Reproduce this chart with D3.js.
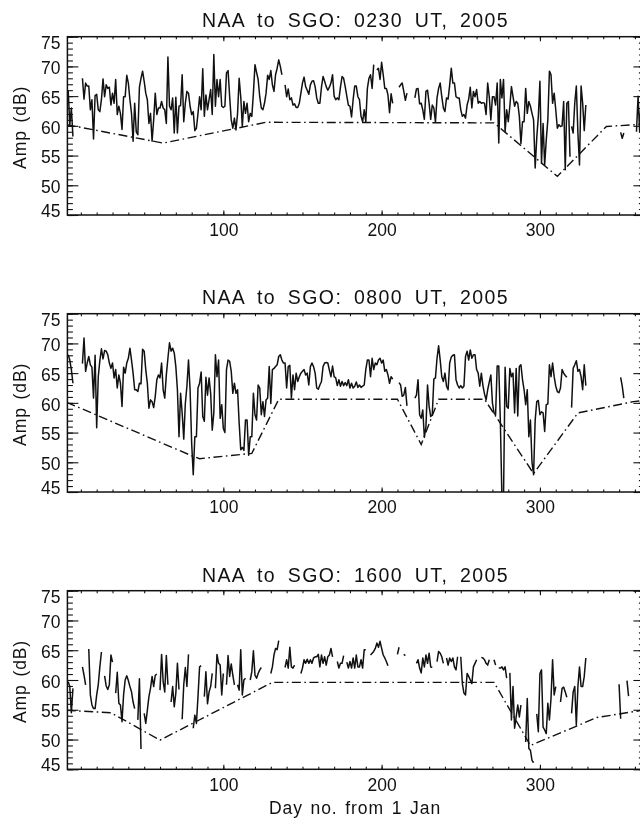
<!DOCTYPE html>
<html>
<head>
<meta charset="utf-8">
<style>
  body { margin: 0; background: #fff; }
  svg { display: block; filter: blur(0.35px); }
  text { font-family: "Liberation Sans", Arial, sans-serif; fill: #111; }
  .title { font-size: 19.5px; letter-spacing: 1.4px; word-spacing: 5px; }
  .tick-label { font-size: 17.5px; }
  .axis-label { font-size: 17.5px; letter-spacing: 0.9px; word-spacing: 2px; }
</style>
</head>
<body>
<div id="chart"></div>
<script src="https://d3js.org/d3.v7.min.js"></script>
<script>
// Amplitudes, one value per day. starts = first day of each unbroken run
const titles = ['NAA to SGO: 0230 UT, 2005', 'NAA to SGO: 0800 UT, 2005', 'NAA to SGO: 1600 UT, 2005'];
const yTicks = [45, 50, 55, 60, 65, 70, 75];
const xTicks = [100, 200, 300];

const starts0230 = [2, 11, 139, 197, 211, 221, 320, 351, 361];
const runs0230 = [
  [66, 60.2, 63, 58.2],
  [68, 64.5, 67.2, 66.7, 66.7, 62.7, 64.4, 57.8, 65.1, 65.3, 62.7, 62.4, 64.4, 67.9, 64.9, 66.9, 66.3, 66.5, 63.5, 65.5, 63.8, 67.8, 61.9, 63.3, 62.1, 59.4, 64.9, 64.9, 68.5, 67.2, 64.4, 62.1, 57.4, 63.8, 59, 58.5, 66.5, 68, 69.2, 67.5, 65.5, 64.4, 60.4, 62.1, 57.4, 61, 65.5, 61.9, 63, 63, 64.1, 63, 62.7, 60.4, 71.6, 63.3, 62.7, 64.7, 58.8, 64.8, 58.8, 63.3, 63.4, 68.6, 60.7, 63.8, 65.8, 65.5, 63.3, 61.9, 62.4, 59.2, 59.6, 62.1, 64.9, 62.7, 69.6, 61.6, 65.2, 62.7, 64.4, 66.1, 61.9, 72, 63.3, 67.8, 64.9, 67.8, 63.3, 63.1, 63.3, 68.9, 69.3, 64.9, 61, 59.6, 61.3, 59.3, 62.1, 68, 64.9, 59.9, 64.1, 62.1, 63.8, 60.7, 62.1, 61.6, 65.5, 70.3, 69, 67.8, 64.9, 63, 62.7, 63.8, 65.5, 68.5, 67.8, 69.3, 66.9, 65.8, 68.6, 69.7, 71.1, 70, 68.6],
  [66.9, 64.9, 66.2, 64.4, 64.7, 63.5, 63.7, 63.1, 63.1, 63.8, 65.5, 67.2, 68.2, 66.6, 66, 65.3, 66.9, 67.5, 67.6, 66.6, 64.7, 63.8, 63.8, 66.5, 68.3, 67.5, 66.6, 66, 66.5, 67.2, 68.6, 65, 64.4, 64.7, 64.4, 66.5, 68.3, 68, 66.6, 65, 63.5, 63.3, 61.5, 64.4, 66.7, 66.7, 64.9, 64.4, 61.6, 60.7, 62.7, 60.7, 66.3, 68, 68.6, 66.3, 70.3],
  [69.4, 69.7, 67.8, 70.7, 68.6, 66.3, 66.3, 65.2, 62.2, 65.4, 63.8],
  [66.5, 66.9, 67.2, 65.8, 64.3, 65.5],
  [64.7, 66.2, 66.3, 63.7, 63.8, 62.7, 61.1, 65.8, 66, 63.8, 61.1, 63.5, 63, 60.6, 64.7, 66.3, 67.2, 64.9, 63, 62.4, 64.7, 64.5, 66.9, 69.7, 67.2, 67.2, 64.9, 64.7, 64.7, 62.7, 61.6, 61.9, 61.3, 63.5, 64.5, 66.5, 63, 65.8, 64.9, 66.1, 63.8, 64.1, 63.8, 63.9, 63.8, 61.9, 67.2, 64.9, 61, 64.9, 64.9, 63.5, 67.2, 57.1, 67.8, 64.7, 67.8, 59, 62.7, 60.7, 63.3, 66.6, 64.9, 63.3, 64.1, 63.8, 61.6, 57, 60.7, 60.7, 66.3, 62.1, 64.1, 63.3, 62.1, 61, 52.9, 58, 61.6, 67.5, 53.7, 60.4, 53.4, 57.6, 61, 69.2, 68.6, 63.8, 65.5, 62.7, 59.6, 60.2, 59.9, 60, 64.1, 52.6, 63.8, 64.1, 54.8],
  [59.9, 58.8, 63.8, 66.7, 58.8, 53.4, 66.7, 63.8, 59.2, 63.5],
  [58.9, 57.9, 58.8],
  [59, 65, 59, 64.9]
];
const refDays0230 = [1, 62, 127, 271, 311, 342, 361, 366];
const refAmp0230 = [60.2, 57.1, 60.6, 60.5, 51.5, 59.9, 60.2, 60.4];

const starts0800 = [2, 11, 211, 221, 320, 351];
const runs0800 = [
  [68.1, 67.2, 65.6, 63.3],
  [66.6, 70.9, 65.3, 66.7, 67.8, 66.4, 66, 60.8, 68, 55.8, 64.4, 67.1, 69.1, 67.4, 68.8, 68.7, 68.1, 66.7, 65.8, 66.7, 64.2, 65.6, 62.5, 64.7, 63.3, 59.4, 66, 65, 66.7, 67.5, 69.2, 67.2, 65, 62.2, 62.2, 61.9, 63.3, 63.2, 69, 68.7, 65.6, 63.3, 59.1, 60.5, 60.2, 59.2, 61.1, 63.9, 64.7, 64.2, 66.7, 62.2, 60.8, 64.7, 67.5, 70.1, 68.7, 69.2, 68.4, 66.1, 62.2, 54.3, 61.6, 58.3, 53.9, 59.9, 62.8, 67.2, 62.2, 53.2, 47.9, 54.3, 54.3, 62.5, 63.3, 65.2, 57.7, 56.9, 64.3, 61.3, 64.2, 61.6, 55.4, 58.3, 68.1, 64.4, 67.2, 57.4, 59.7, 55.7, 55, 65.6, 67.2, 67, 65.3, 61.6, 63.3, 61.6, 62.2, 56.6, 52.1, 52.5, 52, 57.1, 57.1, 51.2, 54.3, 54.3, 61.6, 58, 57.1, 63, 62.5, 58, 60.2, 57.7, 60.5, 60.8, 66.1, 59.9, 65.6, 65.8, 66.1, 66.4, 67.8, 68.1, 67.2, 66.7, 66.7, 62.5, 66.1, 66.3, 60.8, 64.7, 62.2, 65, 63.6, 64.4, 65, 65.3, 65.6, 64.7, 65, 63, 66.1, 66.7, 66.1, 65, 62.5, 62.3, 63, 63.6, 66.1, 66.7, 66.8, 66.7, 65.5, 64.4, 66.2, 64.4, 64.2, 62.9, 63.9, 62.8, 63.6, 62.9, 63.4, 62.9, 63.9, 62.5, 63.3, 62.5, 62.8, 63.5, 62.6, 63, 62.6, 62.8, 63, 65.6, 67.2, 67.2, 64.4, 67.5, 65.6, 66.7, 66.4, 67.2, 67.5, 66.7, 67.2, 65.3, 65.6, 64.7, 63.3, 64.4, 64],
  [63.4, 63, 61.1, 61.3, 62.6, 59.5],
  [60.8, 61.3, 63.9, 58, 57.4, 58.8, 54.2, 56, 63, 59.4, 57.7, 58, 64, 64.2, 67.5, 69.6, 67.2, 64.4, 63.6, 65, 62.8, 62.2, 66.7, 67.7, 68, 68.1, 63.9, 63, 62.5, 62.9, 62.5, 62.8, 67.8, 68.7, 67.2, 68.9, 67.5, 68.1, 68.1, 65.6, 65, 62.8, 65, 62.9, 61.5, 60.5, 62.2, 63.5, 64.7, 60, 58.3, 58, 66.2, 66.2, 56.9, 44, 44, 66, 59.4, 59.1, 65.8, 64.4, 65, 58.3, 65.8, 57.8, 66.1, 66.4, 63.9, 62.2, 59.7, 62.2, 54.3, 57.1, 50, 47.9, 57.1, 60.2, 60.4, 58, 58.5, 58.3, 55.2, 59.7, 59.8, 66.4, 64.4, 66.7, 64.4, 62.8, 61.9, 61.7, 62.5, 65.6, 65, 64.6, 64.3],
  [59.2, 65.8, 66.4, 67.1, 65.3, 65.6, 64.4, 62.2, 66.4, 62.9],
  [64.3, 62.8, 60.8]
];
const refDays0800 = [1, 80, 85, 118, 135, 210, 225, 236, 265, 296, 324, 359, 366];
const refAmp0800 = [60.1, 51.1, 50.6, 51.5, 60.6, 60.6, 53, 60.6, 60.6, 48.1, 58.3, 60.2, 60.4];

const starts1600 = [2, 11, 15, 25, 32, 46, 50, 60, 67, 74, 81, 88, 95, 102, 109, 117, 130, 139, 149, 172, 178, 193, 210, 214, 222, 235, 241, 250, 263, 271, 274, 281, 291, 298, 313, 320, 350, 355];
const runs1600 = [
  [59.7, 58.9, 54.5, 58.6],
  [62.2, 60.8, 59.2],
  [65.2, 57.5, 55.8, 55.2, 55.2, 57.5, 59.2, 62.2, 64.7],
  [60.7, 59, 58.4, 59.2, 64.2, 63],
  [57.8, 61.3, 56.1, 55.8, 53, 57.5, 60, 60.7, 59.9, 58.9, 58, 56.3, 55.2],
  [53.3, 60.2, 48.4],
  [54.4, 52.7, 54.9, 57.2, 58.6, 60.6, 58.9, 60.8, 61],
  [58.3, 64.3, 59.7, 58, 64.1, 59.2],
  [56.3, 58.9, 55.5, 57.8, 62.8, 58.4],
  [53.4, 59.2, 62.1, 58.9, 64.3],
  [51.9, 54.1, 52.7, 57.2, 62.2, 62.4],
  [57.2, 61.4, 56, 58, 58.9, 61.1],
  [58.6, 64.3, 62.8, 62.5, 57.5, 61.1],
  [59.2, 64.1, 60.6, 62.7, 60.8, 59.2],
  [59.2, 58.3, 65.1, 57.5, 60, 60.3],
  [60, 61.4, 64.9, 60.8, 60.3, 61.1, 61.7, 62.1],
  [61.1, 62.2, 64.2, 65.3, 65.1, 66.6],
  [62.1, 63.4, 62, 65.5, 62.2, 62, 62.5],
  [61.1, 62, 63.4, 62.8, 63.5, 62.8, 63.4, 62.8, 63.7, 63.9, 63.9, 64.3, 62.2, 64.2, 62.8, 63.9, 62.5, 63.9, 64.2, 65.3, 63.9],
  [63.1, 62, 62.8, 62.8, 64.1],
  [63, 62, 63.1, 62, 63.7, 62, 64.2, 62.2, 62.2, 63.4, 62, 65.1, 65.1],
  [64.2, 64.5, 64.8, 65.3, 66.2, 65.5, 66.5, 65.3, 64.2, 63.7, 63.1, 62.4],
  [64.3, 65.5],
  [64.3, 64.1],
  [62.8, 63.4, 62, 61.2, 63.7, 62.2, 64.2, 62.8, 64.5, 62.2, 62.1],
  [63.1, 64.8, 64.5, 63.9, 62.8],
  [63.7, 62.5, 63.7, 63.1, 63.7, 62.2, 61.7, 63.9],
  [63.9, 59.4, 57.8, 57.5, 61.1, 60.6, 60, 59.4, 62.2, 62.8, 63.4],
  [63.8, 63.7, 63.4, 62.8, 62.5, 63.4],
  [63.4, 62.5],
  [62, 62, 62.2, 61.7, 62.2, 60.3],
  [61.2, 53.3, 58.9, 51.9, 53.8, 55.8, 53.8, 55.8],
  [49.6, 56.9, 48.5, 48.2, 46.5, 46.1],
  [54.3, 51.3, 61.1, 61.7, 52.1, 51.6, 51, 56.1, 53.3, 56.9, 63.4, 57.5, 58.9],
  [56.3, 58.6, 58.8, 58, 57.1],
  [54.4, 58, 58.9, 52.4, 58.9, 62.2, 58.9, 58.9, 60.6, 63.7],
  [59.3, 53.5],
  [59.9, 57.3]
];
const refDays1600 = [1, 29, 60, 131, 271, 294, 336, 362, 366];
const refAmp1600 = [54.9, 54.5, 49.9, 59.6, 59.6, 49, 53.7, 54.8, 55];

const width = 640;
const height = 821;
const panels = [
  { title: titles[0], top: 36.7, bottom: 215, baseline: 27.3, starts: starts0230, runs: runs0230, refDays: refDays0230, refAmp: refAmp0230 },
  { title: titles[1], top: 313.7, bottom: 492, baseline: 304, starts: starts0800, runs: runs0800, refDays: refDays0800, refAmp: refAmp0800 },
  { title: titles[2], top: 590.7, bottom: 769.3, baseline: 581.7, starts: starts1600, runs: runs1600, refDays: refDays1600, refAmp: refAmp1600 }
];

const svg = d3.select('#chart').append('svg')
  .attr('width', width)
  .attr('height', height);

const x = d3.scaleLinear().domain([1.5, 366]).range([67.4, 644.4]);
const minorX = d3.range(10, 361, 10);
const minorY = d3.range(45, 76);

// labels are squeezed in from the frame ends in the original
const labelNudge = (v) => (v === 75 ? 6.3 : v === 45 ? -4.5 : 1.6);

panels.forEach((p, i) => {
  const y = d3.scaleLinear().domain([45, 75]).range([p.bottom, p.top]);
  const g = svg.append('g');
  const clipId = 'clip' + i;

  g.append('clipPath').attr('id', clipId).append('rect')
    .attr('x', x.range()[0]).attr('y', p.top)
    .attr('width', x.range()[1] - x.range()[0]).attr('height', p.bottom - p.top);

  // ticks on all four sides, none labelled yet
  const addAxis = (axis, tx, ty) => {
    const a = g.append('g').attr('transform', `translate(${tx},${ty})`).call(axis);
    a.selectAll('.domain').remove();
    a.selectAll('line').attr('stroke', '#111').attr('stroke-width', 1.1);
    a.selectAll('text').remove();
  };
  addAxis(d3.axisBottom(x).tickValues(minorX).tickSize(-2.5), 0, p.bottom);
  addAxis(d3.axisBottom(x).tickValues(xTicks).tickSize(-4.5), 0, p.bottom);
  addAxis(d3.axisTop(x).tickValues(minorX).tickSize(-2.5), 0, p.top);
  addAxis(d3.axisTop(x).tickValues(xTicks).tickSize(-4.5), 0, p.top);
  addAxis(d3.axisRight(y).tickValues(minorY).tickSize(5.5), x.range()[0], 0);
  addAxis(d3.axisRight(y).tickValues(yTicks).tickSize(11), x.range()[0], 0);
  addAxis(d3.axisLeft(y).tickValues(minorY).tickSize(5.5), x.range()[1], 0);
  addAxis(d3.axisLeft(y).tickValues(yTicks).tickSize(11), x.range()[1], 0);

  // frame
  g.append('rect')
    .attr('x', x.range()[0]).attr('y', p.top)
    .attr('width', x.range()[1] - x.range()[0]).attr('height', p.bottom - p.top)
    .attr('fill', 'none').attr('stroke', '#111').attr('stroke-width', 1.5);

  // tick labels
  const yLabels = g.append('g').attr('transform', `translate(${x.range()[0]},0)`)
    .call(d3.axisLeft(y).tickValues(yTicks).tickSize(0).tickPadding(7));
  yLabels.select('.domain').remove();
  yLabels.selectAll('text')
    .attr('class', 'tick-label')
    .attr('y', (d) => labelNudge(d));

  const xLabels = g.append('g').attr('transform', `translate(0,${p.bottom})`)
    .call(d3.axisBottom(x).tickValues(xTicks).tickSize(0).tickPadding(9));
  xLabels.select('.domain').remove();
  xLabels.selectAll('text').attr('class', 'tick-label');

  // measured amplitude, one path for each unbroken run
  const line = d3.line()
    .x((d) => x(d[0]))
    .y((d) => y(d[1]));

  const plot = g.append('g').attr('clip-path', `url(#${clipId})`);
  p.runs.forEach((run, j) => {
    plot.append('path')
      .datum(run.map((v, k) => [p.starts[j] + k, v]))
      .attr('fill', 'none')
      .attr('stroke', '#111')
      .attr('stroke-width', 1.5)
      .attr('stroke-linejoin', 'round')
      .attr('d', line);
  });

  // quiet day reference curve
  plot.append('path')
    .datum(p.refDays.map((d, k) => [d, p.refAmp[k]]))
    .attr('fill', 'none')
    .attr('stroke', '#111')
    .attr('stroke-width', 1.4)
    .attr('stroke-dasharray', '9,3.5,1.6,3.5')
    .attr('d', line);

  // title
  svg.append('text')
    .attr('class', 'title')
    .attr('x', 355.5)
    .attr('y', p.baseline)
    .attr('text-anchor', 'middle')
    .text(p.title);

  // y axis label
  svg.append('text')
    .attr('class', 'axis-label')
    .attr('transform', `translate(26,${(p.top + p.bottom) / 2 + 1.5}) rotate(-90)`)
    .attr('text-anchor', 'middle')
    .text('Amp (dB)');
});

svg.append('text')
  .attr('class', 'axis-label')
  .attr('x', 355)
  .attr('y', 814)
  .attr('text-anchor', 'middle')
  .text('Day no. from 1 Jan');
</script>
</body>
</html>
